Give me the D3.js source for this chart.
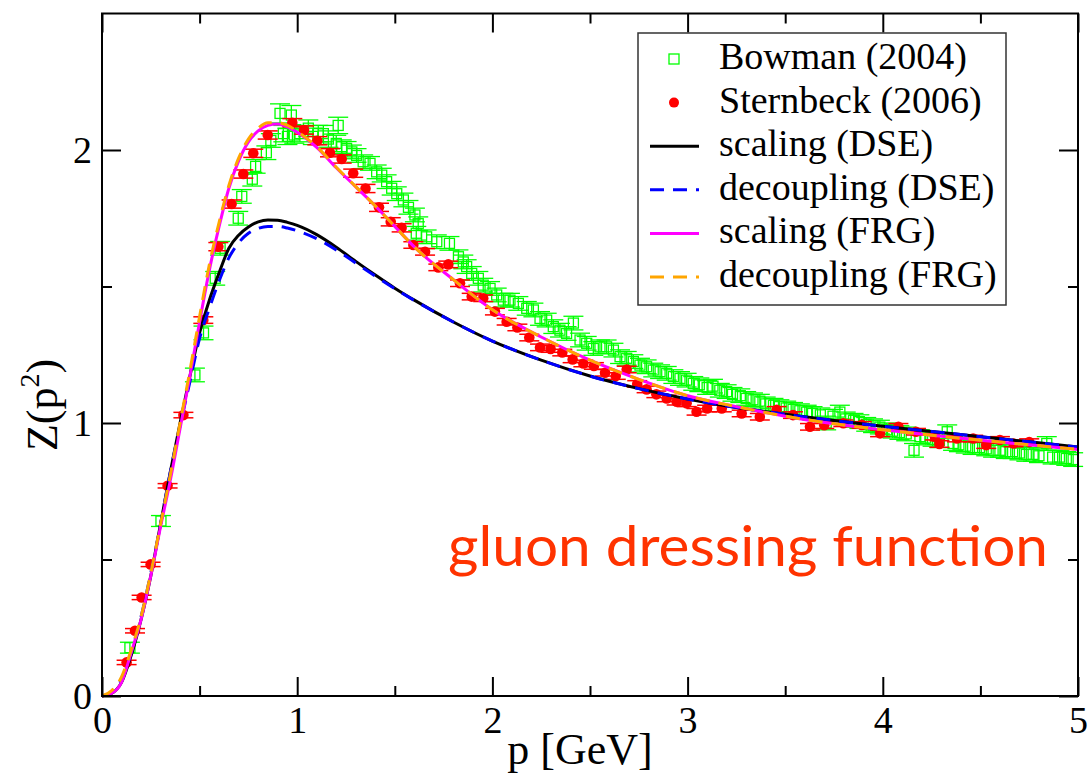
<!DOCTYPE html>
<html>
<head>
<meta charset="utf-8">
<script src="https://cdn.jsdelivr.net/npm/d3@7"></script>
<style>
  body { margin: 0; background: #fff; }
  svg { display: block; }
</style>
</head>
<body>
<svg width="1088" height="776"></svg>
<script>
// curve sample points (p in GeV)
const curveP      = [0, 0.05, 0.1, 0.15, 0.2, 0.25, 0.3, 0.35, 0.4, 0.45, 0.5, 0.55, 0.6, 0.65, 0.7, 0.75, 0.8, 0.85, 0.9, 0.95, 1.0, 1.1, 1.2, 1.3, 1.4, 1.5, 1.6, 1.8, 2.0, 2.25, 2.5, 2.75, 3.0, 3.25, 3.5, 3.75, 4.0, 4.25, 4.5, 4.75, 5.0];
const scalingDSE  = [0, 0.01, 0.05, 0.15, 0.28, 0.44, 0.63, 0.82, 1.0, 1.17, 1.33, 1.45, 1.55, 1.64, 1.688, 1.718, 1.737, 1.744, 1.743, 1.735, 1.724, 1.69, 1.644, 1.592, 1.542, 1.494, 1.45, 1.37, 1.30, 1.23, 1.172, 1.126, 1.088, 1.057, 1.032, 1.009, 0.988, 0.969, 0.95, 0.931, 0.912];
const decouplDSE  = [0, 0.015, 0.06, 0.16, 0.29, 0.45, 0.63, 0.82, 0.99, 1.15, 1.31, 1.42, 1.52, 1.605, 1.66, 1.695, 1.713, 1.72, 1.72, 1.714, 1.704, 1.675, 1.634, 1.586, 1.538, 1.492, 1.449, 1.37, 1.30, 1.23, 1.172, 1.126, 1.088, 1.057, 1.032, 1.009, 0.988, 0.969, 0.95, 0.931, 0.912];
const scalingFRG  = [0, 0.01, 0.05, 0.16, 0.28, 0.44, 0.62, 0.79, 0.98, 1.17, 1.37, 1.56, 1.72, 1.86, 1.96, 2.03, 2.07, 2.09, 2.095, 2.085, 2.065, 2.01, 1.935, 1.865, 1.795, 1.72, 1.645, 1.525, 1.415, 1.315, 1.23, 1.16, 1.10, 1.06, 1.025, 0.997, 0.975, 0.955, 0.937, 0.92, 0.903];
const decouplFRG  = [0, 0.02, 0.07, 0.17, 0.29, 0.45, 0.63, 0.81, 1.0, 1.19, 1.39, 1.58, 1.735, 1.87, 1.97, 2.04, 2.08, 2.10, 2.10, 2.09, 2.068, 2.012, 1.937, 1.866, 1.795, 1.72, 1.645, 1.525, 1.415, 1.315, 1.23, 1.16, 1.10, 1.06, 1.025, 0.997, 0.975, 0.955, 0.937, 0.92, 0.903];

// Sternbeck (2006): [p, Z, error]
const sternbeck = [
  [0.126,0.123,0.008],[0.169,0.239,0.008],[0.203,0.361,0.008],[0.249,0.482,0.008],[0.336,0.770,0.008],
  [0.417,1.029,0.01],[0.519,1.377,0.012],[0.596,1.646,0.015],[0.664,1.802,0.015],[0.724,1.912,0.015],
  [0.775,1.988,0.015],[0.849,2.055,0.015],[0.975,2.100,0.015],[1.035,2.073,0.015],[1.103,2.034,0.015],
  [1.168,1.990,0.015],[1.228,1.967,0.015],[1.287,1.915,0.015],[1.350,1.859,0.015],[1.419,1.790,0.015],
  [1.479,1.737,0.015],[1.535,1.715,0.015],[1.595,1.652,0.012],[1.655,1.627,0.012],[1.723,1.570,0.012],
  [1.774,1.581,0.012],[1.834,1.512,0.012],[1.894,1.463,0.012],[1.953,1.457,0.012],[2.013,1.408,0.012],
  [2.073,1.371,0.012],[2.128,1.350,0.012],[2.189,1.313,0.012],[2.244,1.277,0.012],[2.298,1.271,0.012],
  [2.358,1.258,0.012],[2.411,1.233,0.012],[2.466,1.218,0.012],[2.520,1.209,0.012],[2.577,1.184,0.012],
  [2.632,1.172,0.012],[2.688,1.196,0.012],[2.742,1.143,0.012],[2.790,1.123,0.012],[2.840,1.105,0.012],
  [2.893,1.090,0.012],[2.944,1.078,0.012],[2.995,1.072,0.012],[3.046,1.041,0.012],[3.100,1.053,0.012],
  [3.175,1.053,0.012],[3.277,1.035,0.012],[3.370,1.023,0.012],[3.456,1.048,0.012],[3.540,1.029,0.012],
  [3.627,0.986,0.012],[3.700,0.992,0.012],[3.798,0.999,0.012],[3.892,0.993,0.012],[3.986,0.962,0.012],
  [4.080,0.986,0.012],[4.170,0.968,0.012],[4.267,0.950,0.012],[4.290,0.923,0.012],[4.380,0.943,0.012],
  [4.463,0.943,0.012],[4.530,0.919,0.012],[4.600,0.938,0.012],[4.670,0.925,0.012],[4.750,0.930,0.012]
];

// Bowman (2004): [p, Z, error]
const bowman = [
  [0.143,0.177,0.02],[0.302,0.641,0.02],[0.476,1.176,0.025],[0.520,1.330,0.025],[0.580,1.530,0.025],
  [0.605,1.640,0.025],[0.698,1.750,0.025],[0.716,1.830,0.025],[0.770,1.893,0.025],[0.787,1.940,0.025],
  [0.842,1.990,0.025],[0.865,2.035,0.025],[0.912,2.134,0.035],[0.929,2.060,0.03],[0.950,2.050,0.03],
  [0.970,2.128,0.035],[0.985,2.055,0.03],[1.014,2.060,0.03],[1.057,2.080,0.03],[1.080,2.050,0.03],
  [1.108,2.060,0.03],[1.134,2.060,0.03],[1.160,2.040,0.03],[1.200,2.024,0.03],[1.210,2.090,0.03],
  [1.228,2.012,0.025],[1.253,2.006,0.025],[1.280,1.993,0.025],[1.304,1.980,0.025],[1.338,1.957,0.025],
  [1.373,1.951,0.025],[1.407,1.920,0.025],[1.433,1.908,0.025],[1.458,1.884,0.025],[1.484,1.860,0.025],
  [1.510,1.840,0.025],[1.544,1.817,0.025],[1.570,1.790,0.025],[1.603,1.762,0.025],[1.620,1.730,0.025],
  [1.610,1.695,0.025],[1.663,1.682,0.025],[1.715,1.664,0.025],[1.780,1.658,0.025],[1.826,1.609,0.025],
  [1.851,1.590,0.025],[1.868,1.573,0.025],[1.894,1.548,0.025],[1.928,1.530,0.025],[1.953,1.505,0.025],
  [1.988,1.493,0.025],[2.022,1.469,0.025],[2.056,1.450,0.025],[2.090,1.450,0.025],[2.133,1.438,0.025],
  [2.176,1.420,0.025],[2.210,1.414,0.025],[2.244,1.383,0.025],[2.278,1.377,0.025],[2.312,1.353,0.025],
  [2.346,1.340,0.025],[2.380,1.328,0.025],[2.415,1.366,0.025],[2.449,1.304,0.025],[2.483,1.292,0.025],
  [2.517,1.273,0.025],[2.551,1.279,0.025],[2.585,1.279,0.025],[2.620,1.267,0.025],[2.654,1.243,0.025],
  [2.688,1.237,0.025],[2.722,1.225,0.025],[2.756,1.212,0.025],[2.790,1.206,0.025],[2.824,1.194,0.025],
  [2.859,1.188,0.025],[2.893,1.182,0.025],[2.927,1.170,0.025],[2.961,1.163,0.025],[2.995,1.157,0.025],
  [3.029,1.145,0.025],[3.060,1.140,0.025],[3.100,1.130,0.025],[3.130,1.135,0.025],[3.165,1.120,0.025],
  [3.200,1.115,0.025],[3.230,1.105,0.025],[3.270,1.100,0.025],[3.300,1.090,0.025],[3.335,1.085,0.025],
  [3.370,1.080,0.025],[3.400,1.070,0.025],[3.440,1.065,0.025],[3.470,1.060,0.025],[3.505,1.055,0.025],
  [3.540,1.050,0.025],[3.575,1.045,0.025],[3.610,1.040,0.025],[3.640,1.035,0.025],[3.680,1.030,0.025],
  [3.710,1.000,0.025],[3.745,1.025,0.025],[3.780,1.040,0.025],[3.810,1.015,0.025],[3.850,1.010,0.025],
  [3.880,1.005,0.025],[3.915,0.995,0.025],[3.950,0.990,0.025],[3.985,0.985,0.025],[4.020,0.975,0.025],
  [4.050,0.970,0.025],[4.085,0.965,0.025],[4.120,0.960,0.025],[4.160,0.900,0.025],[4.190,0.950,0.025],
  [4.220,0.945,0.025],[4.255,0.940,0.025],[4.290,0.935,0.025],[4.330,0.968,0.025],[4.360,0.925,0.025],
  [4.390,0.920,0.025],[4.425,0.915,0.025],[4.460,0.910,0.025],[4.495,0.910,0.025],[4.530,0.905,0.025],
  [4.565,0.900,0.025],[4.600,0.900,0.025],[4.630,0.895,0.025],[4.665,0.895,0.025],[4.700,0.890,0.025],
  [4.735,0.885,0.025],[4.770,0.885,0.025],[4.800,0.880,0.025],[4.840,0.925,0.025],[4.870,0.875,0.025],
  [4.905,0.875,0.025],[4.940,0.870,0.025],[4.975,0.866,0.025]
];

const xMajor = [0, 1, 2, 3, 4, 5];
const xMinor = [0.5, 1.5, 2.5, 3.5, 4.5];
const yMajor = [0, 1, 2];
const yMinor = [0.5, 1.5];

const legendLabels = ['Bowman (2004)', 'Sternbeck (2006)', 'scaling (DSE)', 'decoupling (DSE)', 'scaling (FRG)', 'decoupling (FRG)'];

const svg = d3.select('svg');
const pl = 102, pr = 1078, pt = 13.5, pb = 696;
const x = d3.scaleLinear().domain([0, 5]).range([pl, pr]);
const y = d3.scaleLinear().domain([0, 2.5]).range([pb, pt]);
const serif = '"Liberation Serif", "Times New Roman", serif';

const plot = svg.append('g');

// Bowman: open squares with vertical error bars
const gb = plot.append('g').attr('stroke', '#00ff00').attr('stroke-width', 1.3).attr('fill', 'none');
bowman.forEach(d => {
  const cx = x(d[0]), y1 = y(d[1] + d[2]), y2 = y(d[1] - d[2]);
  gb.append('line').attr('x1', cx).attr('x2', cx).attr('y1', y1).attr('y2', y2);
  gb.append('line').attr('x1', cx - 10).attr('x2', cx + 10).attr('y1', y1).attr('y2', y1);
  gb.append('line').attr('x1', cx - 10).attr('x2', cx + 10).attr('y1', y2).attr('y2', y2);
  gb.append('rect').attr('x', cx - 5).attr('y', y(d[1]) - 5).attr('width', 10).attr('height', 10);
});

// Sternbeck: filled circles with error bars
const gs = plot.append('g').attr('stroke', '#ff0000').attr('stroke-width', 1.5);
sternbeck.forEach(d => {
  const cx = x(d[0]), y1 = y(d[1] + d[2]), y2 = y(d[1] - d[2]);
  gs.append('line').attr('x1', cx).attr('x2', cx).attr('y1', y1).attr('y2', y2);
  gs.append('line').attr('x1', cx - 10).attr('x2', cx + 10).attr('y1', y1).attr('y2', y1);
  gs.append('line').attr('x1', cx - 10).attr('x2', cx + 10).attr('y1', y2).attr('y2', y2);
  gs.append('circle').attr('cx', cx).attr('cy', y(d[1])).attr('r', 5.3).attr('fill', '#ff0000').attr('stroke', 'none');
});

// curves
const line = d3.line().x(d => x(d[0])).y(d => y(d[1])).curve(d3.curveMonotoneX);
const curves = [
  { vals: scalingDSE, color: '#000000', dash: null },
  { vals: decouplDSE, color: '#0000ff', dash: '14,9' },
  { vals: scalingFRG, color: '#ff00ff', dash: null },
  { vals: decouplFRG, color: '#ffa500', dash: '14,9' }
];
curves.forEach(c => {
  plot.append('path')
    .datum(curveP.map((p, i) => [p, c.vals[i]]))
    .attr('d', line)
    .attr('fill', 'none')
    .attr('stroke', c.color)
    .attr('stroke-width', 3)
    .attr('stroke-dasharray', c.dash);
});

// axes, ticks pointing inward
function tickAxis(axis, transform, values, size, labels) {
  const g = svg.append('g').attr('transform', transform)
    .call(axis.tickValues(values).tickSize(-size).tickPadding(10)
      .tickFormat(labels ? d3.format('d') : ''));
  g.select('.domain').remove();
  g.selectAll('line').attr('stroke', '#000').attr('stroke-width', 2);
  g.selectAll('text').attr('font-family', serif).attr('font-size', 38).attr('fill', '#000');
  return g;
}
tickAxis(d3.axisBottom(x), `translate(0,${pb})`, xMajor, 19, true);
tickAxis(d3.axisBottom(x), `translate(0,${pb})`, xMinor, 10, false);
tickAxis(d3.axisTop(x), `translate(0,${pt})`, xMajor, 19, false);
tickAxis(d3.axisTop(x), `translate(0,${pt})`, xMinor, 10, false);
tickAxis(d3.axisLeft(y), `translate(${pl},0)`, yMajor, 19, true);
tickAxis(d3.axisLeft(y), `translate(${pl},0)`, yMinor, 10, false);
tickAxis(d3.axisRight(y), `translate(${pr},0)`, yMajor, 19, false);
tickAxis(d3.axisRight(y), `translate(${pr},0)`, yMinor, 10, false);

svg.append('rect')
  .attr('x', pl).attr('y', pt)
  .attr('width', pr - pl).attr('height', pb - pt)
  .attr('fill', 'none').attr('stroke', '#000').attr('stroke-width', 2);

// axis labels
svg.append('text')
  .attr('x', 580).attr('y', 764)
  .attr('text-anchor', 'middle')
  .attr('font-family', serif).attr('font-size', 44)
  .text('p [GeV]');

const yl = svg.append('text')
  .attr('transform', 'translate(57,405) rotate(-90)')
  .attr('text-anchor', 'middle')
  .attr('font-family', serif).attr('font-size', 44);
yl.append('tspan').text('Z(p');
yl.append('tspan').attr('font-size', 28).attr('dy', -18).text('2');
yl.append('tspan').attr('dy', 18).text(')');

// legend
const lg = svg.append('g');
lg.append('rect')
  .attr('x', 638).attr('y', 33).attr('width', 368).attr('height', 272)
  .attr('fill', '#fff').attr('stroke', '#333').attr('stroke-width', 1.5);
legendLabels.forEach((t, i) => {
  const cy = 59 + i * 43.6;
  if (i === 0) {
    lg.append('rect').attr('x', 669).attr('y', cy - 5).attr('width', 10).attr('height', 10)
      .attr('fill', 'none').attr('stroke', '#00ff00').attr('stroke-width', 1.3);
  } else if (i === 1) {
    lg.append('circle').attr('cx', 674).attr('cy', cy).attr('r', 5).attr('fill', '#ff0000');
  } else {
    const c = curves[i - 2];
    lg.append('line').attr('x1', 650).attr('x2', 699).attr('y1', cy).attr('y2', cy)
      .attr('stroke', c.color).attr('stroke-width', 3).attr('stroke-dasharray', c.dash);
  }
  lg.append('text')
    .attr('x', 719).attr('y', cy + 10)
    .attr('font-family', serif).attr('font-size', 38)
    .text(t);
});

// annotation
svg.append('text')
  .attr('x', 448).attr('y', 566)
  .attr('font-family', 'Lato, "Open Sans", sans-serif').attr('font-size', 56)
  .attr('textLength', 600).attr('lengthAdjust', 'spacingAndGlyphs')
  .attr('fill', '#ff3300')
  .text('gluon dressing function');
</script>
</body>
</html>
